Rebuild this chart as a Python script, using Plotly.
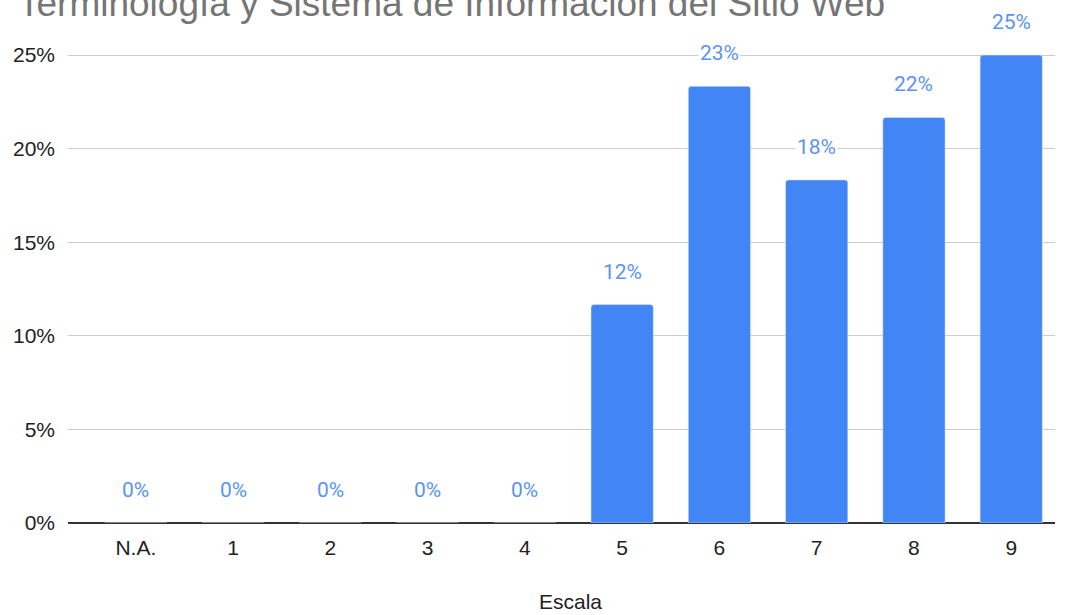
import plotly.graph_objects as go

categories = ["N.A.", "1", "2", "3", "4", "5", "6", "7", "8", "9"]
values = [0.0, 0.0, 0.0, 0.0, 0.0, 0.1167, 0.2333, 0.1833, 0.2167, 0.25]
labels = ["0%", "0%", "0%", "0%", "0%", "12%", "23%", "18%", "22%", "25%"]
y_ticks = [0, 0.05, 0.10, 0.15, 0.20, 0.25]
y_ticktext = ["0%", "5%", "10%", "15%", "20%", "25%"]

AX_FONT = dict(family="Liberation Sans, Arial", size=21, color="#222222")

fig = go.Figure()
fig.add_trace(go.Bar(
    x=categories, y=values, marker_color="#4285f4", width=0.64,
    hoverinfo="skip",
))

for c, v, t in zip(categories, values, labels):
    fig.add_annotation(
        x=c, y=v, text=t, showarrow=False, yshift=33,
        font=dict(family="Roboto", size=21, color="#5a95f5"),
        bgcolor="white", borderpad=1,
    )

fig.add_annotation(
    text="Escala", xref="paper", yref="paper",
    x=(570 - 68) / 987, y=-(601 - 523) / 496, xanchor="center", yanchor="middle",
    showarrow=False, font=AX_FONT,
)

fig.update_layout(
    width=1068, height=615,
    margin=dict(l=68, r=13, t=27, b=92),
    paper_bgcolor="white", plot_bgcolor="white",
    barcornerradius=3,
    showlegend=False,
    title=dict(
        text="Terminología y Sistema de Información del Sitio Web",
        x=18 / 1068, xanchor="left", xref="container",
        y=1 - 3 / 615, yanchor="middle", yref="container",
        font=dict(family="Liberation Sans, Arial", size=37, color="#757575"),
    ),
    xaxis=dict(
        type="category", range=[-0.697, 9.45],
        tickfont=AX_FONT, ticklabelstandoff=10,
        showgrid=False, ticks="", showline=False,
    ),
    yaxis=dict(
        range=[0, 0.265], tickvals=y_ticks, ticktext=y_ticktext,
        tickfont=AX_FONT, ticklabelstandoff=12,
        gridcolor="#cccccc", gridwidth=1,
        zeroline=True, zerolinecolor="#333333", zerolinewidth=2,
        ticks="", showline=False,
    ),
)

fig.write_html("out.html")
